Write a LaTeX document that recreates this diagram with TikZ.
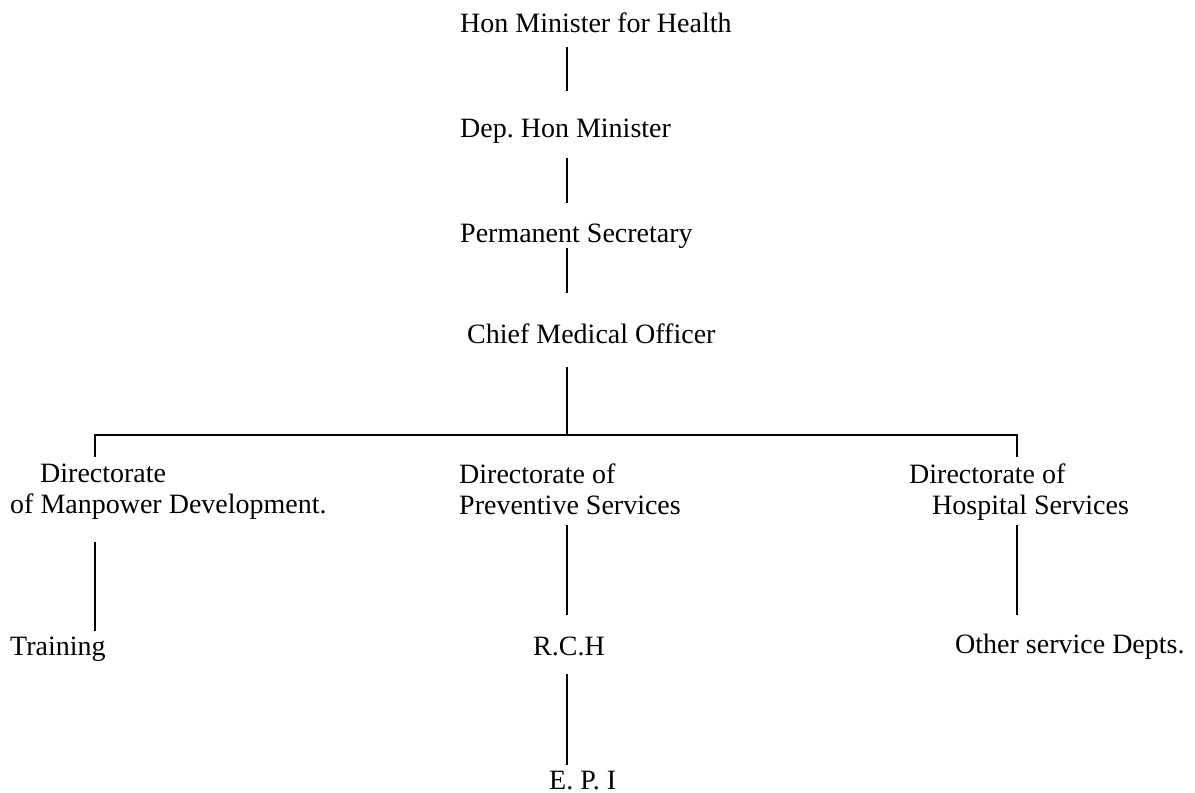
\documentclass[tikz,border=0pt]{standalone}
\usepackage{fontspec}
\setmainfont{Liberation Serif}
\frenchspacing
\begin{document}
\begin{tikzpicture}[x=1pt,y=-1pt,
  lbl/.style={anchor=base west,inner sep=0pt,font=\fontsize{28}{31}\selectfont\frenchspacing},
  conn/.style={line width=1.6pt}]
\useasboundingbox (0,0) rectangle (1195,793);
% texts
\node[lbl] (hon) at (460,32) {Hon Minister for Health};
\node[lbl] (dep) at (460,137) {Dep. Hon Minister};
\node[lbl] (ps)  at (460,242) {Permanent Secretary};
\node[lbl] (cmo) at (467,343) {Chief Medical Officer};
\node[lbl] (dm1) at (40,482) {Directorate};
\node[lbl] (dm2) at (10,513) {of Manpower Development.};
\node[lbl] (dp1) at (459,483) {Directorate of};
\node[lbl] (dp2) at (459,514) {Preventive Services};
\node[lbl] (dh1) at (909,483) {Directorate of};
\node[lbl] (dh2) at (932,514) {Hospital Services};
\node[lbl] (tr)  at (10,655) {Training};
\node[lbl] (rch) at (533,655) {R.C.H};
\node[lbl] (osd) at (955,653) {Other service Depts.};
\node[lbl] (epi) at (549,789) {E. P. I};
% connector ends
\coordinate (a1) at (567,47);  \coordinate (a2) at (567,91);
\coordinate (b1) at (567,158); \coordinate (b2) at (567,203);
\coordinate (c1) at (567,248); \coordinate (c2) at (567,293);
\coordinate (d1) at (567,367); \coordinate (d2) at (567,435);
\coordinate (hl) at (95,435);  \coordinate (hr) at (1017,435);
\coordinate (ml) at (95,457);  \coordinate (mr) at (1017,457);
\coordinate (e1) at (95,542);  \coordinate (e2) at (95,631);
\coordinate (f1) at (567,525); \coordinate (f2) at (567,615);
\coordinate (g1) at (1017,525);\coordinate (g2) at (1017,615);
\coordinate (h1) at (567,674); \coordinate (h2) at (567,765);
% connectors
\draw[conn] (a1) -- (a2);
\draw[conn] (b1) -- (b2);
\draw[conn] (c1) -- (c2);
\draw[conn] (d1) -- (d2);
\draw[conn] (ml) -- (hl) -- (hr) -- (mr);
\draw[conn] (e1) -- (e2);
\draw[conn] (f1) -- (f2);
\draw[conn] (g1) -- (g2);
\draw[conn] (h1) -- (h2);
\end{tikzpicture}
\end{document}
